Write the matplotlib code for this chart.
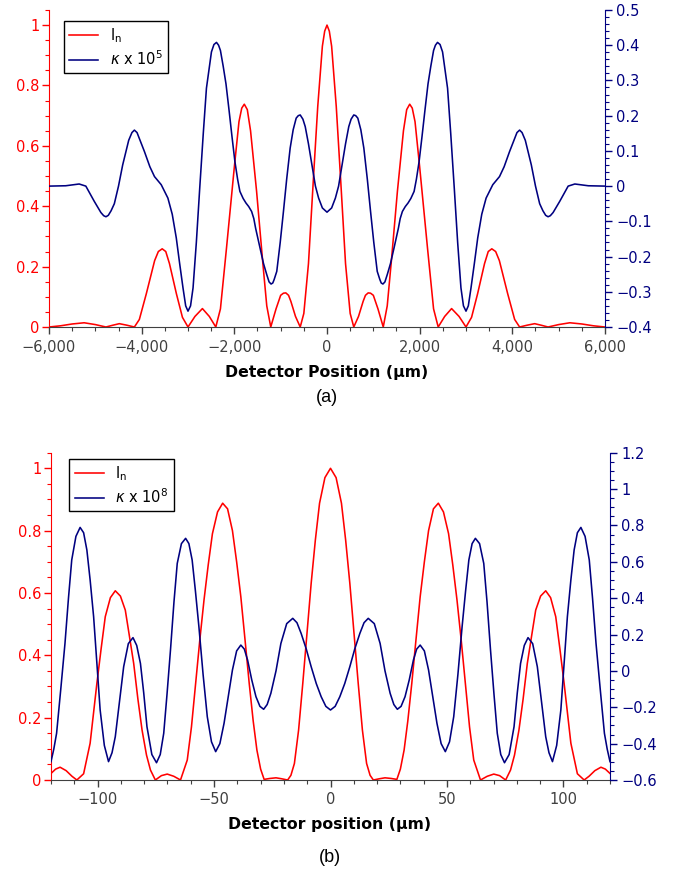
import numpy as np
import matplotlib
matplotlib.use('Agg')
import matplotlib.pyplot as plt
from matplotlib.ticker import MultipleLocator, FuncFormatter

# ---- datos panel (a): I_n (eje izquierdo) y kappa x 1e5 (eje derecho) ----
xa_int = [-6000, -5750, -5500, -5241, -5000, -4771, -4620, -4482, -4320, -4157,
          -4050, -3900, -3720, -3640, -3557, -3480, -3400, -3250, -3120, -3000,
          -2850, -2689, -2540, -2400, -2300, -2170, -2000, -1900, -1840, -1785,
          -1720, -1650, -1520, -1390, -1300, -1214, -1100, -1000, -940, -889,
          -830, -780, -680, -578, -500, -400, -290, -200, -100, -50, 0,
          50, 100, 200, 290, 400, 500, 578, 680, 780, 830,
          889, 940, 1000, 1100, 1214, 1300, 1390, 1520, 1650, 1720,
          1785, 1840, 1900, 2000, 2170, 2300, 2400, 2540, 2689, 2850,
          3000, 3120, 3250, 3400, 3480, 3557, 3640, 3720, 3900, 4050,
          4157, 4320, 4482, 4620, 4771, 5000, 5241, 5500, 5750, 6000]
ia = [0.0, 0.004, 0.010, 0.014, 0.008, 0.0, 0.006, 0.011, 0.006, 0.0,
      0.025, 0.11, 0.22, 0.25, 0.259, 0.25, 0.21, 0.11, 0.032, 0.0,
      0.035, 0.061, 0.035, 0.0, 0.06, 0.26, 0.53, 0.68, 0.725, 0.738,
      0.72, 0.65, 0.45, 0.22, 0.07, 0.0, 0.06, 0.105, 0.112, 0.113,
      0.105, 0.085, 0.035, 0.0, 0.045, 0.21, 0.5, 0.73, 0.93, 0.98, 1.0,
      0.98, 0.93, 0.73, 0.5, 0.21, 0.045, 0.0, 0.035, 0.085, 0.105,
      0.113, 0.112, 0.105, 0.06, 0.0, 0.07, 0.22, 0.45, 0.65, 0.72,
      0.738, 0.725, 0.68, 0.53, 0.26, 0.06, 0.0, 0.035, 0.061, 0.035,
      0.0, 0.032, 0.11, 0.21, 0.25, 0.259, 0.25, 0.22, 0.11, 0.025,
      0.0, 0.006, 0.011, 0.006, 0.0, 0.008, 0.014, 0.010, 0.004, 0.0]

xa_k = [-6000, -5639, -5349, -5205, -5024, -4880, -4820, -4771, -4720, -4660,
        -4590, -4500, -4410, -4280, -4210, -4157, -4100, -4050, -3940, -3823,
        -3723, -3578, -3434, -3340, -3253, -3180, -3108, -3050, -3000, -2945,
        -2891, -2820, -2747, -2670, -2602, -2494, -2440, -2385, -2340, -2300,
        -2240, -2180, -2111, -2050, -1988, -1930, -1880, -1810, -1749, -1690,
        -1627, -1580, -1540, -1446, -1370, -1301, -1250, -1207, -1170, -1140,
        -1084, -1010, -940, -870, -795, -730, -665, -620, -578, -520,
        -470, -400, -325, -250, -181, -100, 0,
        100, 181, 250, 325, 400, 470, 520, 578, 620, 665,
        730, 795, 870, 940, 1010, 1084, 1140, 1170, 1207, 1250,
        1301, 1370, 1446, 1540, 1580, 1627, 1690, 1749, 1810, 1880,
        1930, 1988, 2050, 2111, 2180, 2240, 2300, 2340, 2385, 2440,
        2494, 2602, 2670, 2747, 2820, 2891, 2945, 3000, 3050, 3108,
        3180, 3253, 3340, 3434, 3578, 3723, 3823, 3940, 4050, 4100,
        4157, 4210, 4280, 4410, 4500, 4590, 4660, 4720, 4771, 4820,
        4880, 5024, 5205, 5349, 5639, 6000]
ka = [0.0, 0.001, 0.006, 0.0, -0.043, -0.075, -0.084, -0.087, -0.083, -0.07,
      -0.05, 0.0, 0.06, 0.13, 0.152, 0.159, 0.152, 0.135, 0.098, 0.055,
      0.027, 0.004, -0.034, -0.08, -0.147, -0.22, -0.289, -0.34, -0.355, -0.34,
      -0.289, -0.16, -0.006, 0.15, 0.278, 0.381, 0.402, 0.408, 0.4, 0.385,
      0.34, 0.29, 0.212, 0.14, 0.07, 0.02, -0.015, -0.035, -0.048, -0.058,
      -0.072, -0.092, -0.12, -0.176, -0.22, -0.251, -0.272, -0.278, -0.275, -0.265,
      -0.242, -0.16, -0.072, 0.02, 0.108, 0.16, 0.193, 0.2, 0.202, 0.19,
      0.169, 0.12, 0.06, 0.0, -0.034, -0.062, -0.074,
      -0.062, -0.034, 0.0, 0.06, 0.12, 0.169, 0.19, 0.202, 0.2, 0.193,
      0.16, 0.108, 0.02, -0.072, -0.16, -0.242, -0.265, -0.275, -0.278, -0.272,
      -0.251, -0.22, -0.176, -0.12, -0.092, -0.072, -0.058, -0.048, -0.035, -0.015,
      0.02, 0.07, 0.14, 0.212, 0.29, 0.34, 0.385, 0.4, 0.408, 0.402,
      0.381, 0.278, 0.15, -0.006, -0.16, -0.289, -0.34, -0.355, -0.34, -0.289,
      -0.22, -0.147, -0.08, -0.034, 0.004, 0.027, 0.055, 0.098, 0.135, 0.152,
      0.159, 0.152, 0.13, 0.06, 0.0, -0.05, -0.07, -0.083, -0.087, -0.084,
      -0.075, -0.043, 0.0, 0.006, 0.001, 0.0]

# ---- datos panel (b): I_n y kappa x 1e8 ----
xb_int = [-120, -118, -116.1, -113.5, -111, -108.9, -106, -103.2, -100.3, -98.5,
          -96.7, -94.5, -92.4, -90.2, -88.1, -86.3, -84.5, -82.7, -80.9, -79,
          -77.3, -75.2, -72.6, -70.1, -67.3, -64.4, -61.5, -59.7, -57.9, -56.1,
          -54.3, -52.5, -50.7, -48.5, -46.3, -44.2, -42.1, -40.3, -38.5, -36.7,
          -34.9, -33.2, -31.6, -30, -28.5, -26, -23.4, -21, -18.4, -17,
          -15.5, -13.7, -11.9, -10.1, -8.3, -6.5, -4.7, -2.4, 0,
          2.4, 4.7, 6.5, 8.3, 10.1, 11.9, 13.7, 15.5, 17, 18.4,
          21, 23.4, 26, 28.5, 30, 31.6, 33.2, 34.9, 36.7, 38.5,
          40.3, 42.1, 44.2, 46.3, 48.5, 50.7, 52.5, 54.3, 56.1, 57.9,
          59.7, 61.5, 64.4, 67.3, 70.1, 72.6, 75.2, 77.3, 79, 80.9,
          82.7, 84.5, 86.3, 88.1, 90.2, 92.4, 94.5, 96.7, 98.5, 100.3,
          103.2, 106, 108.9, 111, 113.5, 116.1, 118, 120]
ib = [0.021, 0.035, 0.041, 0.03, 0.012, 0.0, 0.02, 0.118, 0.31, 0.42,
      0.524, 0.585, 0.607, 0.59, 0.545, 0.46, 0.374, 0.26, 0.16, 0.08,
      0.032, 0.0, 0.014, 0.019, 0.012, 0.0, 0.064, 0.17, 0.31, 0.45,
      0.578, 0.69, 0.79, 0.86, 0.888, 0.87, 0.80, 0.70, 0.588, 0.45,
      0.31, 0.19, 0.096, 0.035, 0.002, 0.005, 0.007, 0.004, 0.0, 0.015,
      0.053, 0.16, 0.31, 0.47, 0.631, 0.77, 0.888, 0.97, 1.0,
      0.97, 0.888, 0.77, 0.631, 0.47, 0.31, 0.16, 0.053, 0.015, 0.0,
      0.004, 0.007, 0.005, 0.002, 0.035, 0.096, 0.19, 0.31, 0.45, 0.588,
      0.70, 0.80, 0.87, 0.888, 0.86, 0.79, 0.69, 0.578, 0.45, 0.31,
      0.17, 0.064, 0.0, 0.012, 0.019, 0.014, 0.0, 0.032, 0.08, 0.16,
      0.26, 0.374, 0.46, 0.545, 0.59, 0.607, 0.585, 0.524, 0.42, 0.31,
      0.118, 0.02, 0.0, 0.012, 0.03, 0.041, 0.035, 0.021]

xb_k = [-120, -118.8, -117.6, -115.8, -114, -112.5, -111.1, -109.3, -107.5, -106,
        -104.6, -103.2, -101.7, -100.3, -98.9, -97.1, -95.3, -93.8, -92.4, -90.6,
        -88.8, -86.8, -84.8, -83.2, -81.6, -80.2, -78.8, -76.7, -74.7, -73.1,
        -71.6, -70.2, -68.7, -67.2, -65.8, -64, -62.2, -60.8, -59.4, -58,
        -56.5, -54.7, -52.9, -51.1, -49.3, -47.5, -45.7, -43.9, -42.1, -40.3,
        -38.5, -37, -35.6, -33.8, -32, -30.3, -28.7, -27.2, -25.6, -23.4,
        -21.3, -18.8, -16.2, -14.4, -12.6, -10.4, -8.3, -6.1, -4, -2, 0,
        2, 4, 6.1, 8.3, 10.4, 12.6, 14.4, 16.2, 18.8, 21.3,
        23.4, 25.6, 27.2, 28.7, 30.3, 32, 33.8, 35.6, 37, 38.5,
        40.3, 42.1, 43.9, 45.7, 47.5, 49.3, 51.1, 52.9, 54.7, 56.5,
        58, 59.4, 60.8, 62.2, 64, 65.8, 67.2, 68.7, 70.2, 71.6,
        73.1, 74.7, 76.7, 78.8, 80.2, 81.6, 83.2, 84.8, 86.8, 88.8,
        90.6, 92.4, 93.8, 95.3, 97.1, 98.9, 100.3, 101.7, 103.2, 104.6,
        106, 107.5, 109.3, 111.1, 112.5, 114, 115.8, 117.6, 118.8, 120]
kb = [-0.499, -0.43, -0.343, -0.1, 0.151, 0.4, 0.61, 0.74, 0.789, 0.76,
      0.665, 0.5, 0.298, 0.04, -0.215, -0.41, -0.499, -0.45, -0.362, -0.17,
      0.023, 0.15, 0.183, 0.14, 0.041, -0.12, -0.307, -0.46, -0.505, -0.46,
      -0.343, -0.13, 0.115, 0.38, 0.591, 0.7, 0.729, 0.7, 0.61, 0.44,
      0.243, -0.02, -0.252, -0.39, -0.444, -0.4, -0.288, -0.14, 0.005, 0.11,
      0.142, 0.12, 0.06, -0.05, -0.142, -0.195, -0.211, -0.185, -0.123, 0.0,
      0.151, 0.26, 0.289, 0.265, 0.206, 0.12, 0.023, -0.07, -0.142, -0.195, -0.215,
      -0.195, -0.142, -0.07, 0.023, 0.12, 0.206, 0.265, 0.289, 0.26, 0.151,
      0.0, -0.123, -0.185, -0.211, -0.195, -0.142, -0.05, 0.06, 0.12, 0.142,
      0.11, 0.005, -0.14, -0.288, -0.4, -0.444, -0.39, -0.252, -0.02, 0.243,
      0.44, 0.61, 0.7, 0.729, 0.7, 0.591, 0.38, 0.115, -0.13, -0.343,
      -0.46, -0.505, -0.46, -0.307, -0.12, 0.041, 0.14, 0.183, 0.15, 0.023,
      -0.17, -0.362, -0.45, -0.499, -0.41, -0.215, 0.04, 0.298, 0.5, 0.665,
      0.76, 0.789, 0.74, 0.61, 0.4, 0.151, -0.1, -0.343, -0.43, -0.499]

ROJO = '#ff0000'
AZUL = '#000080'
GRIS = '#404040'


def fmt_num(v, pos):
    s = '%g' % round(v, 6)
    if s == '-0':
        s = '0'
    return s.replace('-', '\u2212')


def fmt_miles(v, pos):
    return ('{:,.0f}'.format(v)).replace('-', '\u2212')


def estilo(ax, ax2, xlim, xmaj, xmin, ylim2, ymin2, ymaj2, xfmt):
    ax.set_xlim(*xlim)
    ax.set_ylim(0, 1.05)
    ax2.set_ylim(*ylim2)
    ax.spines['top'].set_visible(False)
    ax2.spines['top'].set_visible(False)
    ax.spines['right'].set_visible(False)
    ax2.spines['left'].set_visible(False)
    ax2.spines['bottom'].set_visible(False)
    ax.spines['left'].set_color(ROJO)
    ax2.spines['right'].set_color(AZUL)
    ax.spines['bottom'].set_color(GRIS)
    ax.xaxis.set_major_locator(MultipleLocator(xmaj))
    ax.xaxis.set_minor_locator(MultipleLocator(xmin))
    ax.xaxis.set_major_formatter(FuncFormatter(xfmt))
    ax.yaxis.set_major_locator(MultipleLocator(0.2))
    ax.yaxis.set_minor_locator(MultipleLocator(0.05))
    ax.yaxis.set_major_formatter(FuncFormatter(fmt_num))
    ax2.yaxis.set_major_locator(MultipleLocator(ymaj2))
    ax2.yaxis.set_minor_locator(MultipleLocator(ymin2))
    ax2.yaxis.set_major_formatter(FuncFormatter(fmt_num))
    ax.tick_params(axis='x', which='major', direction='out', length=5, width=1,
                   color=GRIS, labelcolor=GRIS, labelsize=10.5, pad=4)
    ax.tick_params(axis='x', which='minor', direction='out', length=3, width=0.8, color=GRIS)
    ax.tick_params(axis='y', which='major', direction='out', length=5, width=1,
                   color=ROJO, labelcolor=ROJO, labelsize=10.5, pad=2)
    ax.tick_params(axis='y', which='minor', direction='out', length=3, width=0.8, color=ROJO)
    ax2.tick_params(axis='y', which='major', direction='out', length=5, width=1,
                    color=AZUL, labelcolor=AZUL, labelsize=10.5, pad=3)
    ax2.tick_params(axis='y', which='minor', direction='out', length=3, width=0.8, color=AZUL)


fig = plt.figure(figsize=(6.73, 8.75), dpi=100)

# panel (a)
ax_a = fig.add_axes([49 / 673, 548 / 875, 556 / 673, 317 / 875])
ax_a2 = ax_a.twinx()
la, = ax_a.plot(xa_int, ia, color=ROJO, lw=1.15)
lb, = ax_a2.plot(xa_k, ka, color=AZUL, lw=1.15)
estilo(ax_a, ax_a2, (-6000, 6000), 2000, 500, (-0.4, 0.5), 0.02, 0.1, fmt_miles)
leg = ax_a2.legend([la, lb], ['I$_\\mathrm{n}$', '$\\kappa$ x 10$^5$'], loc='upper left',
                   bbox_to_anchor=(0.027, 0.965), borderaxespad=0, fancybox=False,
                   edgecolor='black', fontsize=10.5, handlelength=2.0, framealpha=1,
                   labelspacing=0.3, borderpad=0.35)
leg.get_frame().set_linewidth(1.0)

# panel (b)
ax_b = fig.add_axes([51 / 673, 95 / 875, 559 / 673, 327.3 / 875])
ax_b2 = ax_b.twinx()
lc, = ax_b.plot(xb_int, ib, color=ROJO, lw=1.15)
ld, = ax_b2.plot(xb_k, kb, color=AZUL, lw=1.15)
estilo(ax_b, ax_b2, (-120, 120), 50, 10, (-0.6, 1.2), 0.05, 0.2, fmt_num)
leg = ax_b2.legend([lc, ld], ['I$_\\mathrm{n}$', '$\\kappa$ x 10$^8$'], loc='upper left',
                   bbox_to_anchor=(0.033, 0.98), borderaxespad=0, fancybox=False,
                   edgecolor='black', fontsize=10.5, handlelength=2.0, framealpha=1,
                   labelspacing=0.3, borderpad=0.35)
leg.get_frame().set_linewidth(1.0)

# etiquetas de los ejes y subtitulos
fig.text(327 / 673, 1 - 373 / 875, 'Detector Position (\u00b5m)', ha='center', va='center',
         fontsize=11.3, fontweight='bold')
fig.text(327 / 673, 1 - 398 / 875, '(a)', ha='center', va='center', fontsize=13,
         family='Liberation Sans')
fig.text(330 / 673, 1 - 824 / 875, 'Detector position (\u00b5m)', ha='center', va='center',
         fontsize=11.3, fontweight='bold')
fig.text(330 / 673, 1 - 858 / 875, '(b)', ha='center', va='center', fontsize=13,
         family='Liberation Sans')

fig.savefig('out.png', dpi=100, facecolor='white')
